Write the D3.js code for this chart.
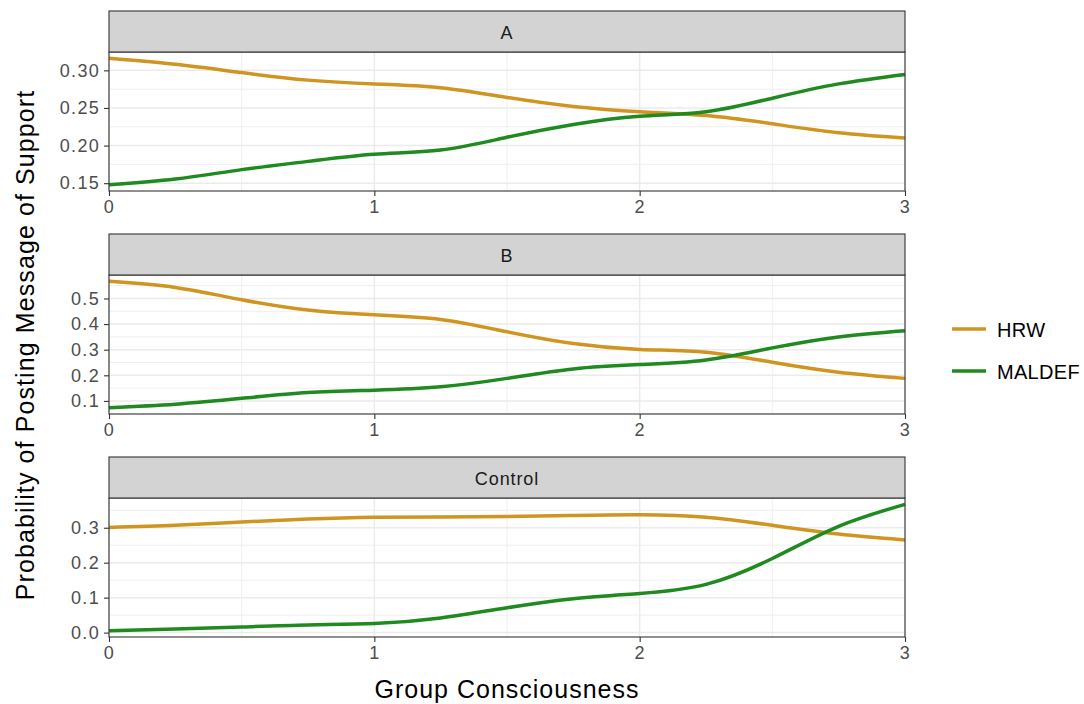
<!DOCTYPE html>
<html>
<head>
<meta charset="utf-8">
<script src="https://cdn.jsdelivr.net/npm/d3@7"></script>
<style>
  html, body { margin: 0; padding: 0; background: #fff; }
  svg { display: block; font-family: "Liberation Sans", Arial, Helvetica, sans-serif; }
</style>
</head>
<body>
<svg id="chart" width="1084" height="704"></svg>
<script>
// Predicted probability of posting a message of support, by group consciousness
const groupConsciousness = [0, 0.25, 0.5, 0.75, 1, 1.25, 1.5, 1.75, 2, 2.25, 2.5, 2.75, 3];
const panels = ["A", "B", "Control"];
const seriesNames = ["HRW", "MALDEF"];
const seriesColors = ["#CF9520", "#1F8A1F"];

const hrwA = [0.316, 0.308, 0.297, 0.287, 0.282, 0.277, 0.264, 0.252, 0.245, 0.240, 0.229, 0.217, 0.210];
const maldefA = [0.148, 0.1555, 0.168, 0.179, 0.1885, 0.194, 0.211, 0.228, 0.239, 0.245, 0.263, 0.282, 0.2946];
const hrwB = [0.567, 0.543, 0.495, 0.455, 0.436, 0.418, 0.370, 0.324, 0.301, 0.290, 0.251, 0.212, 0.188];
const maldefB = [0.0736, 0.087, 0.110, 0.133, 0.142, 0.155, 0.188, 0.225, 0.242, 0.260, 0.307, 0.350, 0.374];
const hrwControl = [0.301, 0.307, 0.3165, 0.325, 0.330, 0.331, 0.332, 0.335, 0.337, 0.330, 0.307, 0.282, 0.265];
const maldefControl = [0.0055, 0.010, 0.016, 0.022, 0.026, 0.042, 0.071, 0.097, 0.112, 0.138, 0.212, 0.304, 0.367];

const yTicksA = [0.15, 0.20, 0.25, 0.30];
const yTicksB = [0.1, 0.2, 0.3, 0.4, 0.5];
const yTicksControl = [0.0, 0.1, 0.2, 0.3];
const xTicks = [0, 1, 2, 3];

const panelData = [
  { name: panels[0], series: [hrwA, maldefA], ticks: yTicksA, fmt: d3.format(".2f") },
  { name: panels[1], series: [hrwB, maldefB], ticks: yTicksB, fmt: d3.format(".1f") },
  { name: panels[2], series: [hrwControl, maldefControl], ticks: yTicksControl, fmt: d3.format(".1f") }
];

const svg = d3.select("#chart");

// Layout of the faceted panels
const left = 109, right = 905;
const stripH = 41, plotH = 139, panelGap = 43;
const top0 = 11;

const x = d3.scaleLinear().domain([0, 3]).range([left, right]);

function styleTicks(sel) {
  sel.select(".domain").remove();
  sel.selectAll(".tick line").attr("stroke", "#333").attr("stroke-width", 1.1);
  sel.selectAll(".tick text")
    .attr("font-size", 18).attr("letter-spacing", "1.3px")
    .attr("fill", "#4D4D4D")
    .attr("font-family", "Liberation Sans, Arial, sans-serif");
}

panelData.forEach((p, i) => {
  const stripTop = top0 + i * (stripH + plotH + panelGap);
  const plotTop = stripTop + stripH;
  const plotBottom = plotTop + plotH;

  // 5% expansion around the data range
  const all = p.series.flat();
  const lo = d3.min(all), hi = d3.max(all), pad = (hi - lo) * 0.05;
  const y = d3.scaleLinear().domain([lo - pad, hi + pad]).range([plotBottom, plotTop]);

  const g = svg.append("g");

  g.append("rect").attr("x", left).attr("y", plotTop)
    .attr("width", right - left).attr("height", plotH).attr("fill", "#fff");

  // minor grid
  const step = p.ticks[1] - p.ticks[0];
  const minorY = [];
  for (let k = -2; k < p.ticks.length + 2; k++) {
    const v = p.ticks[0] + (k + 0.5) * step;
    if (v > y.domain()[0] && v < y.domain()[1]) minorY.push(v);
  }
  g.selectAll(".minor-y").data(minorY).join("line")
    .attr("x1", left).attr("x2", right)
    .attr("y1", d => y(d)).attr("y2", d => y(d))
    .attr("stroke", "#EBEBEB").attr("stroke-width", 0.8);
  g.selectAll(".minor-x").data([0.5, 1.5, 2.5]).join("line")
    .attr("y1", plotTop).attr("y2", plotBottom)
    .attr("x1", d => x(d)).attr("x2", d => x(d))
    .attr("stroke", "#EBEBEB").attr("stroke-width", 0.8);

  // major grid
  g.selectAll(".major-y").data(p.ticks).join("line")
    .attr("x1", left).attr("x2", right)
    .attr("y1", d => y(d)).attr("y2", d => y(d))
    .attr("stroke", "#EBEBEB").attr("stroke-width", 1.5);
  g.selectAll(".major-x").data(xTicks).join("line")
    .attr("y1", plotTop).attr("y2", plotBottom)
    .attr("x1", d => x(d)).attr("x2", d => x(d))
    .attr("stroke", "#EBEBEB").attr("stroke-width", 1.5);

  // smoothed lines
  const line = d3.line()
    .x((d, j) => x(groupConsciousness[j]))
    .y(d => y(d))
    .curve(d3.curveNatural);
  p.series.forEach((vals, s) => {
    g.append("path").datum(vals)
      .attr("d", line)
      .attr("fill", "none")
      .attr("stroke", seriesColors[s])
      .attr("stroke-width", 3.5)
      .attr("stroke-linejoin", "round");
  });

  // panel border
  g.append("rect").attr("x", left).attr("y", plotTop)
    .attr("width", right - left).attr("height", plotH)
    .attr("fill", "none").attr("stroke", "#333").attr("stroke-width", 1.1);

  // strip
  g.append("rect").attr("x", left).attr("y", stripTop)
    .attr("width", right - left).attr("height", stripH)
    .attr("fill", "#D3D3D3").attr("stroke", "#333").attr("stroke-width", 1.1);
  g.append("text").attr("x", (left + right) / 2).attr("y", stripTop + stripH / 2 + 1)
    .attr("text-anchor", "middle").attr("dominant-baseline", "central")
    .attr("font-size", 18).attr("letter-spacing", "0.9px")
    .attr("fill", "#1A1A1A").text(p.name);

  // y axis
  g.append("g").attr("transform", `translate(${left},0)`)
    .call(d3.axisLeft(y).tickValues(p.ticks).tickFormat(p.fmt).tickSize(5).tickPadding(4))
    .call(styleTicks);

  // x axis
  g.append("g").attr("transform", `translate(0,${plotBottom})`)
    .call(d3.axisBottom(x).tickValues(xTicks).tickFormat(d3.format("d")).tickSize(5).tickPadding(4))
    .call(styleTicks);
});

// axis titles
svg.append("text").attr("x", 507).attr("y", 698)
  .attr("text-anchor", "middle").attr("font-size", 25).attr("letter-spacing", "1px")
  .attr("fill", "#000")
  .text("Group Consciousness");
svg.append("text")
  .attr("transform", "translate(34,345) rotate(-90)")
  .attr("text-anchor", "middle").attr("font-size", 25).attr("letter-spacing", "1.1px")
  .attr("fill", "#000")
  .text("Probability of Posting Message of Support");

// legend
const legend = svg.append("g");
seriesNames.forEach((name, i) => {
  const ly = 329 + i * 42;
  legend.append("line").attr("x1", 952).attr("x2", 986)
    .attr("y1", ly).attr("y2", ly)
    .attr("stroke", seriesColors[i]).attr("stroke-width", 3.5);
  legend.append("text").attr("x", 997).attr("y", ly + 1)
    .attr("dominant-baseline", "central").attr("font-size", 20).attr("letter-spacing", "0.3px")
    .attr("fill", "#000")
    .text(name);
});
</script>
</body>
</html>
